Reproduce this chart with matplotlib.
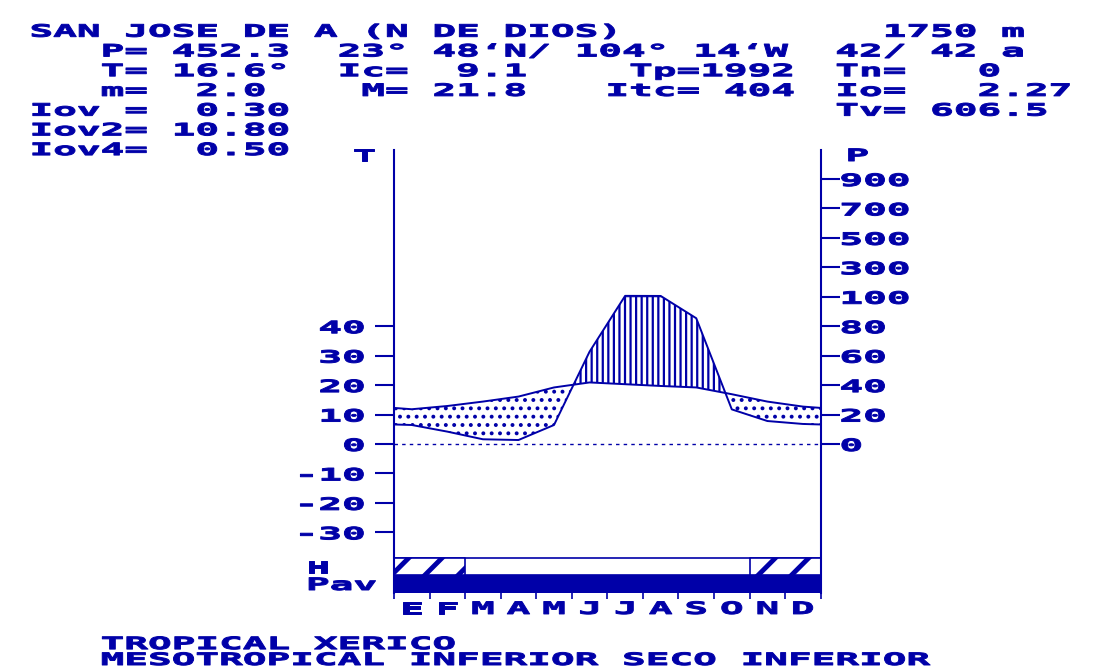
import matplotlib
matplotlib.use('Agg')
import matplotlib.pyplot as plt
import numpy as np
from matplotlib import patheffects
from matplotlib.transforms import Affine2D

BLUE = '#0000a8'
W, H = 1107, 668

# ---- data ----
months = ['E', 'F', 'M', 'A', 'M', 'J', 'J', 'A', 'S', 'O', 'N', 'D']
temp = [11.8, 12.9, 14.4, 16.1, 19.2, 20.9, 20.3, 19.7, 19.2, 16.9, 14.4, 12.7]
prec = [12.9, 8.4, 3.2, 2.7, 12.9, 62.7, 106.0, 105.4, 85.4, 23.5, 15.6, 13.6]
frost = [1, 1, 0, 0, 0, 0, 0, 0, 0, 0, 1, 1]
pav = [1, 1, 1, 1, 1, 1, 1, 1, 1, 1, 1, 1]
t_ticks = [-30, -20, -10, 0, 10, 20, 30, 40]
p_ticks = [0, 20, 40, 60, 80, 100, 300, 500, 700, 900]

station = "SAN JOSE DE A (N DE DIOS)"
# (column, row, text) of the header block
header = [
    (0, 0, station), (36, 0, "1750 m"),
    (3, 1, "P= 452.3"), (13, 1, "23° 48‘N/"), (23, 1, "104° 14‘W"), (34, 1, "42/ 42 a"),
    (3, 2, "T= 16.6°"), (13, 2, "Ic=  9.1"), (25.3, 2, "Tp=1992"), (34, 2, "Tn=   0"),
    (3, 3, "m=  2.0"), (14, 3, "M= 21.8"), (24.3, 3, "Itc= 404"), (34, 3, "Io=   2.27"),
    (0, 4, "Iov =  0.30"), (34, 4, "Tv= 606.5"),
    (0, 5, "Iov2= 10.80"),
    (0, 6, "Iov4=  0.50"),
]
footer = ["TROPICAL XERICO", "MESOTROPICAL INFERIOR SECO INFERIOR"]

plt.rcParams['font.family'] = 'DejaVu Sans Mono'
plt.rcParams['font.weight'] = 'bold'
plt.rcParams['font.size'] = 12.25
plt.rcParams['hatch.linewidth'] = 1.6

PITCH = 23.7
SX = PITCH / (0.602 * 12.25 * 100 / 72)


class Stretch(patheffects.AbstractPathEffect):
    """widen (and thicken) glyphs, like the old wide screen font"""
    def __init__(self, sx, anchor='left', lw=0.7):
        super().__init__()
        self.sx = sx
        self.anchor = anchor
        self.lw = lw

    def draw_path(self, renderer, gc, tpath, affine, rgbFace=None):
        if self.anchor == 'left':
            x0 = 0.0
        else:
            ext = tpath.get_extents()
            x0 = ext.x1 if self.anchor == 'right' else (ext.x0 + ext.x1) / 2
        st = Affine2D().translate(-x0, 0).scale(self.sx, 1).translate(x0, 0)
        gc0 = renderer.new_gc()
        gc0.copy_properties(gc)
        gc0.set_linewidth(self.lw)
        gc0.set_foreground(rgbFace)
        renderer.draw_path(gc0, tpath, st + affine, rgbFace)
        gc0.restore()


def pscale(p):
    p = np.asarray(p, dtype=float)
    return np.where(p <= 100, p / 2, 50 + (p - 100) / 20)


fig = plt.figure(figsize=(W / 100, H / 100), dpi=100)
fig.patch.set_facecolor('white')


def put(x, y, s, ls=1.2):
    fig.text(x / W, 1 - y / H, s, color=BLUE, ha='left', va='baseline',
             linespacing=ls, path_effects=[Stretch(SX)])


X0 = 29.5
for col, row, s in header:
    put(X0 + col * PITCH, 36.7 + row * 19.73, s)
put(X0 + 3 * PITCH, 665, "\n".join(footer), ls=0.85)

# main diagram axes (T scale, bars at the bottom)
Y_BOT, Y_TOP = -50.6, 100
H_TOP, H_BOT = -38.7, -44.5
ax = fig.add_axes([394 / W, (H - 593) / H, (820.7 - 394) / W, (593 - 149.5) / H])
ax.set_xlim(0, 12)
ax.set_ylim(Y_BOT, Y_TOP)
ax.patch.set_alpha(0)
for side in ['top', 'bottom']:
    ax.spines[side].set_visible(False)
for side in ['left', 'right']:
    ax.spines[side].set_color(BLUE)
    ax.spines[side].set_linewidth(1.5)

x = np.arange(12) + 0.5
x_ext = np.r_[-0.5, x, 12.5]
t_ext = np.r_[temp[-1], temp, temp[0]]
pe_ext = pscale(np.r_[prec[-1], prec, prec[0]])

ax.fill_between(x_ext, t_ext, pe_ext, where=pe_ext < t_ext, interpolate=True,
                facecolor='none', edgecolor=BLUE, hatch='..', lw=0)
ax.fill_between(x_ext, t_ext, pe_ext, where=pe_ext > t_ext, interpolate=True,
                facecolor='none', edgecolor=BLUE, hatch='|||', lw=0)
ax.fill_between(x_ext, 50, pe_ext, where=pe_ext > 50, interpolate=True,
                color=BLUE, lw=0)
ax.plot(x_ext, t_ext, color=BLUE, lw=1.4)
ax.plot(x_ext, pe_ext, color=BLUE, lw=1.4)
ax.axhline(0, color=BLUE, lw=1.0, ls=(0, (2.5, 3)))

# H (frost) and Pav bars
edges = np.arange(13)
fr = np.array(frost, dtype=bool)
pv = np.array(pav, dtype=bool)
ax.axhspan(H_BOT, H_TOP, facecolor='white', edgecolor=BLUE, lw=1.2)
with plt.rc_context({'hatch.linewidth': 3.5}):
    hb = ax.fill_between(edges, H_BOT, H_TOP,
                         where=np.r_[fr, False] | np.r_[False, fr],
                         facecolor='white', edgecolor=BLUE, hatch='/', lw=1.2)
if hasattr(hb, 'set_hatch_linewidth'):
    hb.set_hatch_linewidth(3.5)
ax.fill_between(edges, Y_BOT, H_BOT, where=np.r_[pv, False] | np.r_[False, pv],
                color=BLUE, lw=0)

# month ticks
ax.set_xticks(edges, [''] * 13)
ax.set_xticks(x, months, minor=True)
ax.tick_params(axis='x', which='major', length=4.3, width=1.2, color=BLUE)
ax.tick_params(axis='x', which='minor', length=0, pad=5, labelcolor=BLUE)
for lbl in ax.get_xticklabels(minor=True):
    lbl.set_path_effects([Stretch(SX, 'center')])

# T axis
ax.set_yticks(t_ticks, [str(v) for v in t_ticks])
ax.tick_params(axis='y', length=13.7, width=1.5, color=BLUE, labelcolor=BLUE, pad=7.6)
for lbl in ax.get_yticklabels():
    lbl.set_path_effects([Stretch(SX, 'right')])

# P axis
ax2 = ax.twinx()
ax2.set_ylim(Y_BOT, Y_TOP)
for sp in ax2.spines.values():
    sp.set_visible(False)
ax2.set_yticks(pscale(p_ticks), [str(v) for v in p_ticks])
ax2.tick_params(axis='y', length=13.5, width=1.5, color=BLUE, labelcolor=BLUE, pad=0)
for lbl in ax2.get_yticklabels():
    lbl.set_path_effects([Stretch(SX, 'left')])

put(352.5, 161, "T")
put(845.5, 161, "P")
put(306, 590, "H\nPav", ls=0.92)

fig.savefig('out.png', dpi=100)
